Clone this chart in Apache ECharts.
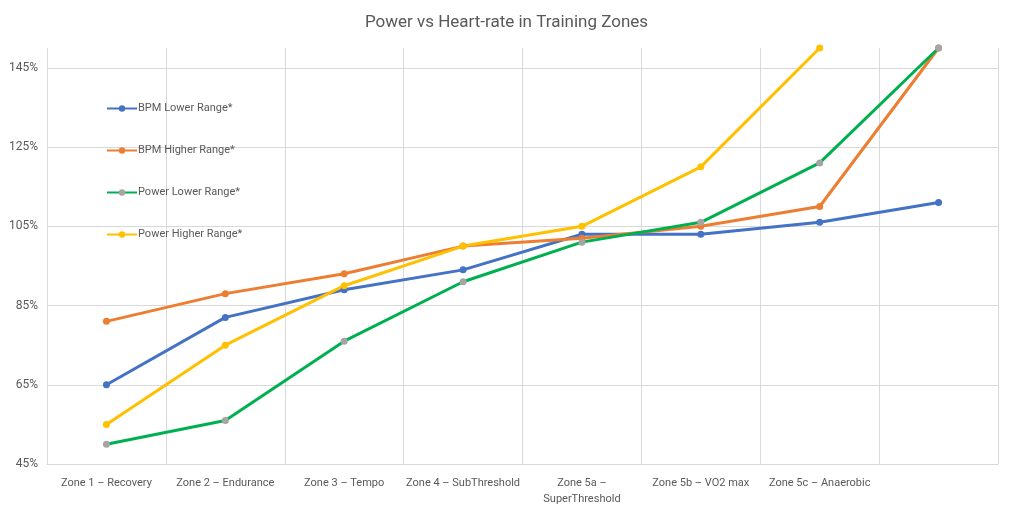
<!DOCTYPE html>
<html><head><meta charset="utf-8">
<script src="https://cdn.jsdelivr.net/npm/echarts@6/dist/echarts.min.js"></script>
<style>html,body{margin:0;padding:0;background:#fff}#c{width:1013px;height:511px}</style>
</head><body><div id="c"></div>
<script>
const categories = ['Zone 1 – Recovery','Zone 2 – Endurance','Zone 3 – Tempo','Zone 4 – SubThreshold','Zone 5a –\nSuperThreshold','Zone 5b – VO2 max','Zone 5c – Anaerobic',''];
const bpmLower = [65, 82, 89, 94, 103, 103, 106, 111];
const bpmHigher = [81, 88, 93, 100, 102, 105, 110, 150];
const powerLower = [50, 56, 76, 91, 101, 106, 121, 150];
const powerHigher = [55, 75, 90, 100, 105, 120, 150, null];
const seriesNames = ['BPM Lower Range*','BPM Higher Range*','Power Lower Range*','Power Higher Range*'];

const chart = echarts.init(document.getElementById('c'));
const font = 'Roboto';
function mk(name, data, lineColor, markColor){
  return {name, type:'line', data, symbol:'circle', symbolSize:7,
    lineStyle:{width:3, color:lineColor}, itemStyle:{color:markColor},
    color: lineColor, emphasis:{disabled:true}};
}
chart.setOption({
  animation:false,
  title:{text:'Power vs Heart-rate in Training Zones', left:'center', top:9,
    textStyle:{fontFamily:font, fontSize:17, fontWeight:'normal', color:'#595959'}},
  legend:{orient:'vertical', left:101, top:98, itemGap:31, itemWidth:30, itemHeight:8,
    textStyle:{fontFamily:font, fontSize:11, color:'#595959', padding:[0,0,0,-4]},
    data:seriesNames},
  grid:{left:47, right:15, top:48, bottom:47, containLabel:false},
  xAxis:{type:'category', data:categories, boundaryGap:true,
    axisLine:{lineStyle:{color:'#d9d9d9'}}, axisTick:{show:false},
    splitLine:{show:true, interval:0, lineStyle:{color:'#d9d9d9'}},
    axisLabel:{interval:0, fontFamily:font, fontSize:11, color:'#595959', margin:11, lineHeight:16}},
  yAxis:{type:'value', min:45, max:150, interval:20,
    axisLine:{show:false}, axisTick:{show:false},
    splitLine:{show:true, showMaxLine:false, lineStyle:{color:'#d9d9d9'}},
    axisLabel:{showMaxLabel:false, fontFamily:font, fontSize:12, color:'#595959', margin:9,
      formatter:v=>v+'%'}},
  series:[
    mk(seriesNames[0], bpmLower, '#4472C4', '#4472C4'),
    mk(seriesNames[1], bpmHigher, '#ED7D31', '#ED7D31'),
    mk(seriesNames[2], powerLower, '#00B050', '#A5A5A5'),
    mk(seriesNames[3], powerHigher, '#FFC000', '#FFC000')
  ]
});
</script></body></html>
